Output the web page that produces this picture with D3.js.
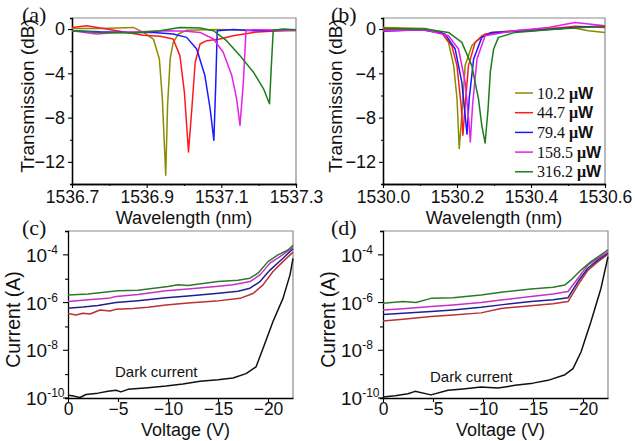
<!DOCTYPE html>
<html>
<head>
<meta charset="utf-8">
<script src="https://cdn.jsdelivr.net/npm/d3@7"></script>
<style>
  body { margin: 0; background: #fff; }
  svg { display: block; }
  .tick text { font-family: "Liberation Sans", Arial, sans-serif; }
</style>
</head>
<body>
<svg id="fig" width="635" height="441"></svg>
<script>
// ---- data ----
const powers = ["10.2", "44.7", "79.4", "158.5", "316.2"];
const specColors = ["#8b8b00", "#ff1a1a", "#1a1aff", "#e620e6", "#1a7f1a"];
const ivColors = ["#b83232", "#1f1f8f", "#c630c6", "#2a7a2a"]; // 44.7 -> 316.2 order below

// (a) transmission vs wavelength, [nm, dB]
const specA_10 = [[1536.700, 0.05], [1536.775, 0.06], [1536.864, 0.15], [1536.891, -0.3], [1536.918, -0.9], [1536.934, -2.7], [1536.942, -6.3], [1536.951, -13.2], [1536.956, -6.9], [1536.963, -2.7], [1536.971, -1.2], [1536.985, -0.45], [1537.007, -0.1], [1537.088, -0.05], [1537.177, -0.1], [1537.300, -0.15]];
const specA_44 = [[1536.700, 0.15], [1536.739, 0.3], [1536.820, -0.15], [1536.891, -0.55], [1536.936, -0.65], [1536.971, -0.9], [1536.989, -2.4], [1537.001, -5.7], [1537.012, -11.1], [1537.021, -7.2], [1537.030, -3.0], [1537.043, -1.35], [1537.061, -1.05], [1537.096, -0.9], [1537.132, -0.6], [1537.186, -0.3], [1537.300, -0.06]];
const specA_79 = [[1536.700, -0.15], [1536.775, -0.25], [1536.864, -0.3], [1536.918, -0.3], [1536.971, -0.45], [1537.007, -0.75], [1537.034, -1.8], [1537.056, -4.2], [1537.070, -7.2], [1537.080, -10.05], [1537.085, -5.0], [1537.089, -0.15], [1537.132, -0.05], [1537.186, -0.15], [1537.300, -0.1]];
const specA_158 = [[1536.700, -0.15], [1536.766, -0.45], [1536.820, -0.3], [1536.882, -0.25], [1536.954, -0.15], [1537.007, -0.2], [1537.043, -0.3], [1537.079, -0.9], [1537.105, -2.1], [1537.128, -4.2], [1537.141, -6.3], [1537.150, -8.7], [1537.159, -4.8], [1537.166, -0.15], [1537.186, -0.05], [1537.300, -0.1]];
const specA_316 = [[1536.700, -0.15], [1536.775, -0.3], [1536.864, -0.35], [1536.936, -0.15], [1536.989, 0.15], [1537.043, 0.1], [1537.079, -0.15], [1537.114, -1.05], [1537.150, -2.4], [1537.186, -3.9], [1537.213, -5.4], [1537.229, -6.75], [1537.234, -3.3], [1537.239, -0.1], [1537.266, 0], [1537.300, -0.06]];

// (b) transmission vs wavelength, [nm, dB]
const specB_10 = [[1530.000, 0.15], [1530.114, 0.05], [1530.159, -0.3], [1530.177, -1.2], [1530.191, -3.3], [1530.200, -6.3], [1530.206, -10.8], [1530.213, -7.8], [1530.222, -3.3], [1530.240, -1.5], [1530.267, -0.6], [1530.294, -0.3], [1530.357, -0.15], [1530.447, 0.05], [1530.510, 0.15], [1530.555, -0.15], [1530.600, -0.3]];
const specB_44 = [[1530.000, -0.06], [1530.114, -0.06], [1530.159, -0.36], [1530.186, -1.5], [1530.200, -3.3], [1530.212, -7.2], [1530.216, -9.6], [1530.222, -6.9], [1530.231, -3.3], [1530.249, -1.2], [1530.276, -0.45], [1530.357, -0.15], [1530.447, 0], [1530.519, 0.25], [1530.600, 0.15]];
const specB_79 = [[1530.000, -0.2], [1530.105, -0.06], [1530.168, -0.45], [1530.195, -1.8], [1530.213, -4.8], [1530.222, -7.8], [1530.227, -9.5], [1530.233, -6.3], [1530.245, -2.7], [1530.267, -0.75], [1530.294, -0.3], [1530.402, -0.15], [1530.519, 0.15], [1530.600, 0.3]];
const specB_158 = [[1530.000, -0.15], [1530.114, -0.06], [1530.177, -0.6], [1530.204, -1.8], [1530.222, -4.8], [1530.233, -8.7], [1530.236, -10.2], [1530.242, -6.9], [1530.254, -2.7], [1530.276, -0.6], [1530.357, -0.15], [1530.447, 0.15], [1530.519, 0.6], [1530.600, 0.3]];
const specB_316 = [[1530.000, 0.06], [1530.114, 0], [1530.177, -0.3], [1530.213, -1.2], [1530.240, -3.3], [1530.258, -6.3], [1530.267, -8.7], [1530.276, -10.3], [1530.284, -7.2], [1530.290, -3.9], [1530.299, -1.8], [1530.312, -0.75], [1530.357, -0.3], [1530.447, -0.06], [1530.537, 0.15], [1530.600, 0.25]];

// (c) current vs voltage, [V, A]
const ivC_dark = [[0, 1.3e-10], [-0.6, 1.2e-10], [-1.2, 1.05e-10], [-1.8, 1.4e-10], [-3, 1.6e-10], [-4, 1.9e-10], [-4.8, 2.1e-10], [-5.3, 1.8e-10], [-6, 2.3e-10], [-8, 2.7e-10], [-9.8, 3.2e-10], [-11.5, 3.9e-10], [-13.2, 5e-10], [-15, 5.8e-10], [-16.5, 6.9e-10], [-17.8, 1.05e-9], [-18.8, 2e-9], [-19.5, 1.2e-8], [-20.5, 1.6e-7], [-21.5, 1.5e-6], [-22.2, 1.45e-5], [-22.5, 7.2e-5]];
const ivC_44 = [[0, 3.5e-7], [-0.8, 3.0e-7], [-1.5, 3.6e-7], [-2.2, 3.3e-7], [-3.2, 4.9e-7], [-4.2, 4.4e-7], [-4.8, 5.2e-7], [-6.5, 5.6e-7], [-8, 6.4e-7], [-9.8, 7.9e-7], [-12, 9.5e-7], [-14.8, 1.15e-6], [-17.2, 1.5e-6], [-18.5, 2.4e-6], [-19.5, 5.5e-6], [-20.5, 2e-5], [-21.5, 5.2e-5], [-22.5, 1.3e-4]];
const ivC_79 = [[0, 5.8e-7], [-1.5, 6.5e-7], [-3, 7.6e-7], [-4.8, 1.0e-6], [-7, 1.2e-6], [-9.8, 1.6e-6], [-12, 1.9e-6], [-14.8, 2.4e-6], [-17, 3.0e-6], [-18.2, 4e-6], [-19.2, 7.6e-6], [-20.2, 2.3e-5], [-21.5, 7.2e-5], [-22.5, 1.8e-4]];
const ivC_158 = [[0, 1.1e-6], [-2, 1.3e-6], [-4, 1.5e-6], [-4.8, 1.8e-6], [-7, 2.2e-6], [-9.8, 3.1e-6], [-12, 3.7e-6], [-14.8, 4.7e-6], [-16.5, 5.6e-6], [-18.2, 7.6e-6], [-19.2, 1.45e-5], [-20.2, 4.5e-5], [-21.2, 8.5e-5], [-22.5, 2.0e-4]];
const ivC_316 = [[0, 2.1e-6], [-2, 2.3e-6], [-5, 3.1e-6], [-7, 3.3e-6], [-10, 4.7e-6], [-11, 5.6e-6], [-12, 5.2e-6], [-15, 7.6e-6], [-17, 8.6e-6], [-18.2, 1.05e-5], [-19, 1.7e-5], [-20, 5.2e-5], [-21, 1.0e-4], [-22, 1.6e-4], [-22.5, 2.5e-4]];

// (d) current vs voltage, [V, A]
const ivD_dark = [[0, 1.1e-10], [-1.2, 1.25e-10], [-2.5, 1.5e-10], [-3.2, 1.9e-10], [-4.8, 1.35e-10], [-6.5, 2.1e-10], [-8, 2.4e-10], [-9.8, 2.9e-10], [-11.5, 2.6e-10], [-13.2, 3.4e-10], [-15, 4.2e-10], [-16.5, 5.5e-10], [-18.2, 9.5e-10], [-19, 1.7e-9], [-19.8, 8.5e-9], [-20.8, 1.6e-7], [-21.8, 4e-6], [-22.5, 8.5e-5]];
const ivD_44 = [[0, 1.7e-7], [-2, 2.0e-7], [-4.8, 2.6e-7], [-7, 3.0e-7], [-9.8, 3.7e-7], [-11.8, 5.7e-7], [-14.8, 7.4e-7], [-17, 9e-7], [-18.5, 1.1e-6], [-19.5, 5.5e-6], [-20.5, 2.3e-5], [-21.5, 5.2e-5], [-22.5, 1.07e-4]];
const ivD_79 = [[0, 3.2e-7], [-2, 3.6e-7], [-4.8, 4.2e-7], [-7, 4.9e-7], [-9.8, 6.3e-7], [-12, 8.2e-7], [-14.8, 1.1e-6], [-17, 1.3e-6], [-18.5, 1.6e-6], [-19.5, 7.6e-6], [-20.5, 2.8e-5], [-21.5, 6.2e-5], [-22.5, 1.2e-4]];
const ivD_158 = [[0, 4.9e-7], [-2, 5.5e-7], [-4.8, 6.8e-7], [-7, 7.9e-7], [-9.8, 1.0e-6], [-12, 1.3e-6], [-14.8, 1.8e-6], [-17, 2.3e-6], [-18.5, 2.9e-6], [-19.5, 1.05e-5], [-20.5, 3.8e-5], [-21.5, 7.2e-5], [-22.5, 1.3e-4]];
const ivD_316 = [[0, 9.3e-7], [-2, 1.1e-6], [-3.3, 1.0e-6], [-4.8, 1.5e-6], [-7, 1.6e-6], [-9.8, 2.1e-6], [-12, 2.8e-6], [-14.8, 3.7e-6], [-17, 4.4e-6], [-18.2, 5.5e-6], [-18.8, 8.9e-6], [-19.8, 2.3e-5], [-20.8, 5.2e-5], [-22.5, 1.6e-4]];

const specTicksA = [1536.7, 1536.9, 1537.1, 1537.3];
const specTicksB = [1530.0, 1530.2, 1530.4, 1530.6];
const dbTicks = [0, -4, -8, -12];
const voltTicks = [0, -5, -10, -15, -20];
const currentExp = [-4, -6, -8, -10];

// ---- drawing ----
const svg = d3.select("#fig");
svg.append("rect").attr("width", 635).attr("height", 441).attr("fill", "#fff");

const SANS = "'Liberation Sans', Arial, sans-serif";
const SERIF = "'Liberation Serif', 'Times New Roman', serif";

function frame(g, x0, x1, y0, y1) {
    g.append("path")
        .attr("d", `M${x0},${y0}H${x1}V${y1}`)
        .attr("fill", "none").attr("stroke", "#8a8a8a").attr("stroke-width", 1.2);
}

function styleAxis(sel) {
    sel.select(".domain").attr("stroke", "#000").attr("stroke-width", 1.3);
    sel.selectAll(".tick line").attr("stroke", "#000").attr("stroke-width", 1.1);
    sel.selectAll(".tick text").attr("font-size", 18).attr("fill", "#111");
}

function panelLabel(text, x, y) {
    svg.append("text").attr("x", x).attr("y", y)
        .attr("font-family", SERIF).attr("font-size", 22).attr("fill", "#111")
        .text(text);
}

function spectrumPanel(cfg) {
    const g = svg.append("g");
    const x = d3.scaleLinear().domain(cfg.xDomain).range([cfg.left, cfg.right]);
    const y = d3.scaleLinear().domain([-14, 1]).range([cfg.bottom, cfg.top]);

    frame(g, cfg.left, cfg.right, cfg.top, cfg.bottom);

    const step = (cfg.xDomain[1] - cfg.xDomain[0]) / 6;
    const minorX = d3.range(1, 6, 2).map(i => cfg.xDomain[0] + i * step);
    g.append("g").attr("transform", `translate(0,${cfg.bottom})`)
        .call(d3.axisBottom(x).tickValues(minorX).tickSize(2).tickFormat(""))
        .call(styleAxis);
    g.append("g").attr("transform", `translate(0,${cfg.bottom})`)
        .call(d3.axisBottom(x).tickValues(cfg.xTicks).tickSize(4).tickPadding(3)
            .tickFormat(d3.format(".1f")).tickSizeOuter(0))
        .call(styleAxis)
        .call(s => s.selectAll(".tick text").attr("font-size", 17.5));

    g.append("g").attr("transform", `translate(${cfg.left},0)`)
        .call(d3.axisLeft(y).tickValues([-2, -6, -10]).tickSize(2).tickFormat(""))
        .call(styleAxis);
    g.append("g").attr("transform", `translate(${cfg.left},0)`)
        .call(d3.axisLeft(y).tickValues(dbTicks).tickSize(4).tickPadding(3)
            .tickFormat(d3.format("d")).tickSizeOuter(0))
        .call(styleAxis);

    const line = d3.line().x(d => x(d[0])).y(d => y(d[1]));
    const clip = "clip-" + cfg.id;
    svg.append("clipPath").attr("id", clip).append("rect")
        .attr("x", cfg.left).attr("y", cfg.top)
        .attr("width", cfg.right - cfg.left).attr("height", cfg.bottom - cfg.top);
    g.append("g").attr("clip-path", `url(#${clip})`)
        .selectAll("path").data(cfg.series).join("path")
        .attr("d", line).attr("fill", "none")
        .attr("stroke", (d, i) => specColors[i]).attr("stroke-width", 1.5)
        .attr("stroke-linejoin", "round");

    g.append("text")
        .attr("x", (cfg.left + cfg.right) / 2).attr("y", 224)
        .attr("text-anchor", "middle").attr("font-family", SANS).attr("font-size", 18)
        .attr("fill", "#111").text("Wavelength (nm)");
    g.append("text")
        .attr("transform", `translate(${cfg.titleX},${(cfg.top + cfg.bottom) / 2 - 5}) rotate(-90)`)
        .attr("text-anchor", "middle").attr("font-family", SANS).attr("font-size", 19)
        .attr("fill", "#111").text("Transmission (dB)");
    return { g, x, y };
}

function ivPanel(cfg) {
    const g = svg.append("g");
    const x = d3.scaleLinear().domain([0, -22.5]).range([cfg.left, cfg.right]);
    const y = d3.scaleLog().domain([1e-10, 1e-3]).range([cfg.bottom, cfg.top]);

    frame(g, cfg.left, cfg.right, cfg.top, cfg.bottom);

    g.append("g").attr("transform", `translate(0,${cfg.bottom})`)
        .call(d3.axisBottom(x).tickValues(voltTicks).tickSize(4).tickPadding(1)
            .tickFormat(d => d === 0 ? "0" : d3.format("d")(d)).tickSizeOuter(0))
        .call(styleAxis)
        .call(s => s.selectAll(".tick text").attr("font-size", 17.5));

    const ya = g.append("g").attr("transform", `translate(${cfg.left},0)`)
        .call(d3.axisLeft(y).tickValues([1e-9, 1e-7, 1e-5, 1e-3]).tickSize(3).tickFormat(""))
        .call(styleAxis);
    ya.append("g").selectAll("line").data(currentExp).join("line")
        .attr("x1", 0).attr("x2", -5)
        .attr("y1", d => y(Math.pow(10, d))).attr("y2", d => y(Math.pow(10, d)))
        .attr("stroke", "#000").attr("stroke-width", 1.1);
    const lab = g.append("g").selectAll("text").data(currentExp).join("text")
        .attr("x", cfg.left - 42).attr("y", d => y(Math.pow(10, d)) + 7)
        .attr("font-family", SANS).attr("font-size", 19).attr("fill", "#111");
    lab.append("tspan").text("10");
    lab.append("tspan").attr("font-size", 12).attr("dy", -8).text(d => d);

    const line = d3.line().x(d => x(d[0])).y(d => y(d[1]));
    g.append("g").selectAll("path").data(cfg.series).join("path")
        .attr("d", line).attr("fill", "none")
        .attr("stroke", (d, i) => i === 0 ? "#111" : ivColors[i - 1]).attr("stroke-width", 1.5)
        .attr("stroke-linejoin", "round");

    g.append("text").attr("x", cfg.darkX).attr("y", cfg.darkY)
        .attr("font-family", SANS).attr("font-size", 15).attr("fill", "#111")
        .text("Dark current");

    g.append("text")
        .attr("x", (cfg.left + cfg.right) / 2 + 5).attr("y", 436)
        .attr("text-anchor", "middle").attr("font-family", SANS).attr("font-size", 18)
        .attr("fill", "#111").text("Voltage (V)");
    g.append("text")
        .attr("transform", `translate(${cfg.titleX},${(cfg.top + cfg.bottom) / 2 + 5}) rotate(-90)`)
        .attr("text-anchor", "middle").attr("font-family", SANS).attr("font-size", 19.5)
        .attr("fill", "#111").text("Current (A)");
}

spectrumPanel({
    id: "a", left: 72, right: 296, top: 18, bottom: 184, titleX: 34,
    xDomain: [1536.7, 1537.3], xTicks: specTicksA,
    series: [specA_10, specA_44, specA_79, specA_158, specA_316]
});
const pb = spectrumPanel({
    id: "b", left: 383, right: 605, top: 18, bottom: 184, titleX: 342,
    xDomain: [1530.0, 1530.6], xTicks: specTicksB,
    series: [specB_10, specB_44, specB_79, specB_158, specB_316]
});

// legend in (b)
const leg = pb.g.append("g").selectAll("g").data(powers).join("g")
    .attr("transform", (d, i) => `translate(515,${93 + i * 19.7})`);
leg.append("line").attr("x1", 0).attr("x2", 18)
    .attr("stroke", (d, i) => specColors[i]).attr("stroke-width", 1.5);
const lt = leg.append("text").attr("x", 22).attr("y", 5.5)
    .attr("font-family", SERIF).attr("font-size", 16).attr("fill", "#111");
lt.append("tspan").text(d => d + " ");
lt.append("tspan").attr("font-weight", "bold").text("\u03bc");
lt.append("tspan").attr("font-family", SANS).attr("font-weight", "bold").text("W");

ivPanel({
    left: 68, right: 293, top: 231, bottom: 398, titleX: 20,
    darkX: 115, darkY: 377,
    series: [ivC_dark, ivC_44, ivC_79, ivC_158, ivC_316]
});
ivPanel({
    left: 383, right: 608, top: 231, bottom: 398, titleX: 335,
    darkX: 430, darkY: 382,
    series: [ivD_dark, ivD_44, ivD_79, ivD_158, ivD_316]
});

panelLabel("(a)", 22, 22);
panelLabel("(b)", 331, 22);
panelLabel("(c)", 22, 235);
panelLabel("(d)", 331, 235);
</script>
</body>
</html>
